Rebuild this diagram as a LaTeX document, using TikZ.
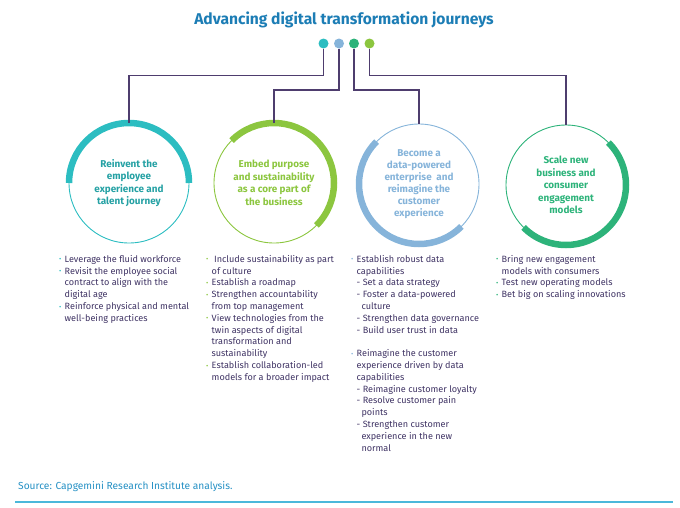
\documentclass[tikz,border=0pt]{standalone}
\usepackage{fontspec}
\setmainfont{Fira Sans}
\definecolor{cteal}{HTML}{2CBDC1}
\definecolor{cblue}{HTML}{86B4DA}
\definecolor{cgreen}{HTML}{2DB37A}
\definecolor{clime}{HTML}{8CC63F}
\definecolor{ctitle}{HTML}{1C7DB5}
\definecolor{ctext}{HTML}{3E3263}
\definecolor{cline}{HTML}{4E3D6E}
\definecolor{csrc}{HTML}{2590C4}
\definecolor{cbot}{HTML}{4BB8DA}
\newcommand\bul[1]{\makebox[5.5pt][l]{\textcolor{#1}{\raisebox{0.4pt}{\scriptsize •}}}}
\newcommand\ind{\hspace*{5.5pt}}
\begin{document}
\begin{tikzpicture}[x=1pt,y=1pt,
  dot/.style={circle,inner sep=0pt,minimum size=10pt,fill=#1},
  ring/.style={circle,draw=#1,line width=0.9pt,minimum size=120pt,inner sep=0pt,align=center,
     text=#1,font=\fontsize{9.9}{12.6}\selectfont\bfseries},
  band/.style={line width=6.5pt,draw=#1},
  conn/.style={draw=cline,line width=1.4pt},
  list/.style={anchor=north west,align=left,inner sep=0pt,text=ctext,font=\fontsize{9.1}{11.8}\selectfont}]
\useasboundingbox (0,-507) rectangle (680,0);
\node[text=ctitle,font=\fontsize{15.6}{17}\selectfont\bfseries] (title) at (344,-20) {Advancing digital transformation journeys};
\node[dot=cteal] (d1) at (323.5,-43.5) {};
\node[dot=cblue] (d2) at (339,-43.5) {};
\node[dot=cgreen] (d3) at (354,-43.5) {};
\node[dot=clime] (d4) at (369.5,-43.5) {};
\coordinate (lv1) at (0,-75.5);
\coordinate (lv2) at (0,-90);
% circles
\node[ring=cteal] (c1) at (129,-183) {\textcolor{cteal!85!black}{Reinvent the}\\\textcolor{cteal!85!black}{employee}\\\textcolor{cteal!85!black}{experience and}\\\textcolor{cteal!85!black}{talent journey}};
\node[ring=clime] (c2) at (274,-183) {Embed purpose\\and sustainability\\as a core part of\\the business};
\node[ring=cblue,font=\fontsize{9.9}{12}\selectfont\bfseries] (c3) at (419,-184) {Become a\\data-powered\\enterprise\ \ and\\reimagine the\\customer\\experience};
\node[ring=cgreen] (c4) at (566,-185) {Scale new\\business and\\consumer\\engagement\\models};
\draw[band=cteal] ([shift={(0:60)}]c1.center) arc[start angle=0,end angle=180,radius=60];
\draw[band=clime] ([shift={(135:60)}]c2.center) arc[start angle=135,end angle=-45,radius=60];
\draw[band=cblue] ([shift={(135:60)}]c3.center) arc[start angle=135,end angle=315,radius=60];
\draw[band=cgreen] ([shift={(45:60)}]c4.center) arc[start angle=45,end angle=-135,radius=60];
% connectors
\draw[conn] (d1.south) -- (d1 |- lv1) -| (c1.north);
\draw[conn] (d2.south) -- (d2 |- lv2) -| (c2.north);
\draw[conn] (d3.south) -- (d3 |- lv2) -| (c3.north);
\draw[conn] (d4.south) -- (d4 |- lv1) -| (c4.north);
% lists
\node[list] (l1) at (59,-255) {\bul{cteal}Leverage the fluid workforce\\
\bul{cteal}Revisit the employee social\\\ind contract to align with the\\\ind digital age\\
\bul{cteal}Reinforce physical and mental\\\ind well-being practices};
\node[list] (l2) at (206,-255) {\bul{clime}\ Include sustainability as part\\\ind of culture\\
\bul{clime}Establish a roadmap\\
\bul{clime}Strengthen accountability\\\ind from top management\\
\bul{clime}View technologies from the\\\ind twin aspects of digital\\\ind transformation and\\\ind sustainability\\
\bul{clime}Establish collaboration-led\\\ind models for a broader impact};
\node[list] (l3) at (351,-255) {\bul{cblue}Establish robust data\\\ind capabilities\\
\ind - Set a data strategy\\\ind - Foster a data-powered\\\ind\ \ culture\\\ind - Strengthen data governance\\\ind - Build user trust in data\\[11.8pt]
\bul{cblue}Reimagine the customer\\\ind experience driven by data\\\ind capabilities\\
\ind - Reimagine customer loyalty\\\ind - Resolve customer pain\\\ind\ \ points\\\ind - Strengthen customer\\\ind\ \ experience in the new\\\ind\ \ normal};
\node[list] (l4) at (496,-255) {\bul{cgreen}Bring new engagement\\\ind models with consumers\\
\bul{cgreen}Test new operating models\\
\bul{cgreen}Bet big on scaling innovations};
\node[anchor=west,inner sep=0pt,text=csrc,font=\fontsize{10.2}{12}\selectfont] (src) at (18,-487) {Source: Capgemini Research Institute analysis.};
\coordinate (bl) at (15,-502);
\coordinate (br) at (673,-502);
\draw[draw=cbot,line width=1.3pt] (bl) -- (br);
\end{tikzpicture}
\end{document}
